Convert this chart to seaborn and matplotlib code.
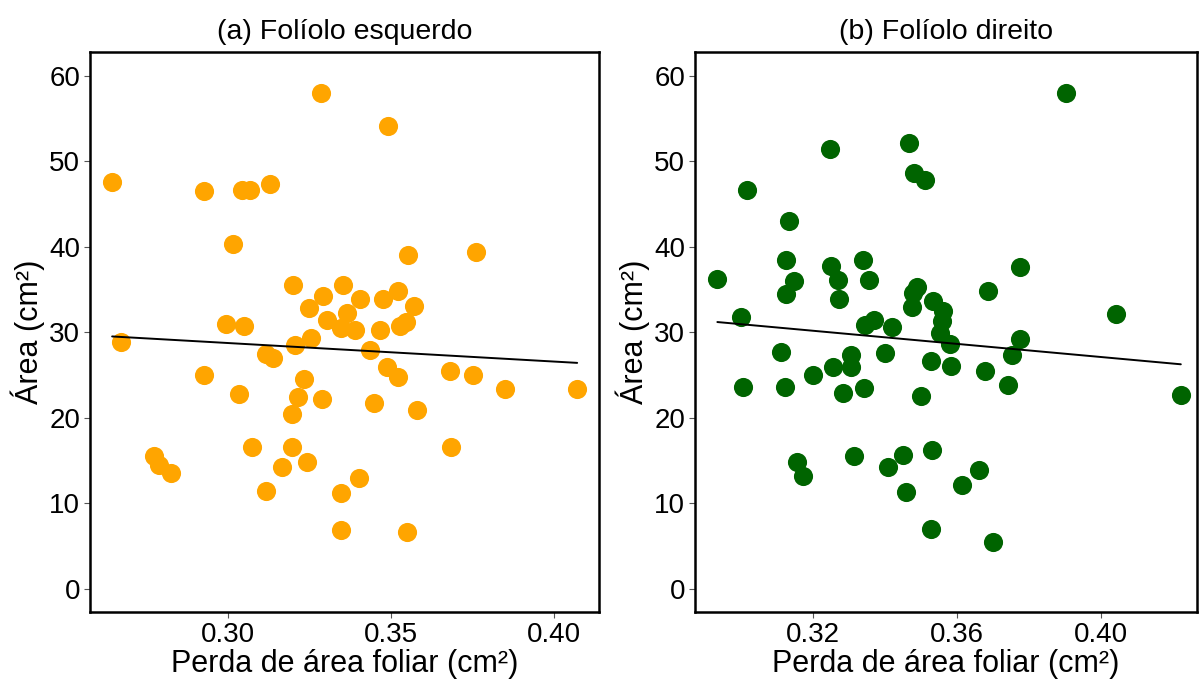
import matplotlib
matplotlib.use("Agg")
import matplotlib.pyplot as plt
import seaborn as sns
import pandas as pd

# folíolo esquerdo: perda de área foliar (cm²) e área (cm²)
perda_esq = [0.2643, 0.2670, 0.3283, 0.3491, 0.2924, 0.3042, 0.3066, 0.3129, 0.3014, 0.3551,
             0.3759, 0.3198, 0.3352, 0.3290, 0.3404, 0.3475, 0.3522, 0.3570, 0.3247, 0.3365,
             0.3302, 0.3345, 0.3388, 0.3467, 0.3526, 0.3545, 0.2994, 0.3049, 0.3255, 0.3206,
             0.3114, 0.3137, 0.3436, 0.3487, 0.3522, 0.3681, 0.3752, 0.3850, 0.4071, 0.2924,
             0.3034, 0.3231, 0.3214, 0.3286, 0.3196, 0.3447, 0.3578, 0.3685, 0.3073, 0.3196,
             0.2773, 0.2786, 0.2825, 0.3164, 0.3242, 0.3401, 0.3117, 0.3347, 0.3346, 0.3547]
area_esq = [47.6, 28.9, 58.0, 54.1, 46.5, 46.7, 46.7, 47.4, 40.3, 39.1,
            39.4, 35.6, 35.6, 34.3, 33.9, 33.9, 34.9, 33.1, 32.8, 32.3,
            31.5, 30.5, 30.3, 30.3, 30.7, 31.2, 31.0, 30.8, 29.3, 28.5,
            27.5, 27.0, 27.9, 26.0, 24.8, 25.5, 25.0, 23.4, 23.4, 25.0,
            22.8, 24.6, 22.4, 22.2, 20.4, 21.7, 20.9, 16.6, 16.6, 16.6,
            15.6, 14.5, 13.5, 14.2, 14.8, 13.0, 11.5, 11.2, 6.9, 6.7]

# folíolo direito
perda_dir = [0.3246, 0.3466, 0.3480, 0.3511, 0.3015, 0.3132, 0.3124, 0.3249, 0.3338, 0.3268,
             0.3356, 0.2933, 0.3146, 0.3124, 0.3272, 0.3489, 0.3478, 0.3474, 0.3534, 0.3562,
             0.3557, 0.3553, 0.3581, 0.2999, 0.3343, 0.3368, 0.3420, 0.3685, 0.3775, 0.3903,
             0.4042, 0.3774, 0.3752, 0.3583, 0.3677, 0.3742, 0.4223, 0.3110, 0.3003, 0.3121,
             0.3200, 0.3256, 0.3304, 0.3304, 0.3400, 0.3282, 0.3342, 0.3499, 0.3527, 0.3154,
             0.3172, 0.3313, 0.3407, 0.3449, 0.3531, 0.3457, 0.3528, 0.3660, 0.3614, 0.3699]
area_dir = [51.4, 52.2, 48.6, 47.8, 46.6, 43.0, 38.5, 37.8, 38.5, 36.1,
            36.1, 36.2, 36.0, 34.5, 33.9, 35.3, 34.6, 33.0, 33.7, 32.5,
            31.3, 29.9, 28.6, 31.8, 30.9, 31.4, 30.6, 34.8, 37.6, 58.0,
            32.1, 29.2, 27.4, 26.1, 25.5, 23.8, 22.7, 27.7, 23.6, 23.6,
            25.0, 25.9, 27.3, 25.9, 27.6, 22.9, 23.5, 22.6, 26.7, 14.8,
            13.2, 15.5, 14.2, 15.7, 16.2, 11.3, 7.0, 13.9, 12.1, 5.5]

titulos = ["(a) Folíolo esquerdo", "(b) Folíolo direito"]
cores = ["#FFA500", "#006400"]
xticks = [[0.30, 0.35, 0.40], [0.32, 0.36, 0.40]]
xlims = [(0.2575, 0.4138), (0.2870, 0.4268)]

sns.set_style("white")
plt.rcParams['font.family'] = ['Liberation Sans', 'DejaVu Sans']
plt.rcParams['text.color'] = 'black'
plt.rcParams['axes.labelcolor'] = 'black'
plt.rcParams['xtick.color'] = 'black'
plt.rcParams['ytick.color'] = 'black'

fig = plt.figure(figsize=(12.03, 6.85), dpi=100)
ax1 = fig.add_axes([0.0748, 0.1066, 0.4231, 0.8175])
ax2 = fig.add_axes([0.5775, 0.1066, 0.4175, 0.8175])

dados = [pd.DataFrame({"perda": perda_esq, "area": area_esq}),
         pd.DataFrame({"perda": perda_dir, "area": area_dir})]

for ax, df, cor, titulo, xt, xl in zip([ax1, ax2], dados, cores, titulos, xticks, xlims):
    sns.scatterplot(data=df, x="perda", y="area", color=cor, s=190, linewidth=0, ax=ax)
    sns.regplot(data=df, x="perda", y="area", scatter=False, ci=None,
                line_kws={"color": "black", "linewidth": 1.4}, ax=ax)
    ax.set_xlim(xl)
    ax.set_ylim(-2.7, 62.8)
    ax.set_xticks(xt)
    ax.set_xticklabels([f"{v:.2f}" for v in xt])
    ax.set_yticks([0, 10, 20, 30, 40, 50, 60])
    ax.set_title(titulo, fontsize=20.5, pad=9)
    ax.set_xlabel("Perda de área foliar (cm²)", fontsize=22, labelpad=1)
    ax.set_ylabel("Área (cm²)", fontsize=22, labelpad=3)
    ax.tick_params(axis="both", labelsize=20, length=4, width=0.8, color="#555555",
                   labelcolor="black", direction="out", bottom=True, left=True, pad=3)
    for sp in ax.spines.values():
        sp.set_color("black")
        sp.set_linewidth(1.8)

fig.savefig("out.png", dpi=100)
